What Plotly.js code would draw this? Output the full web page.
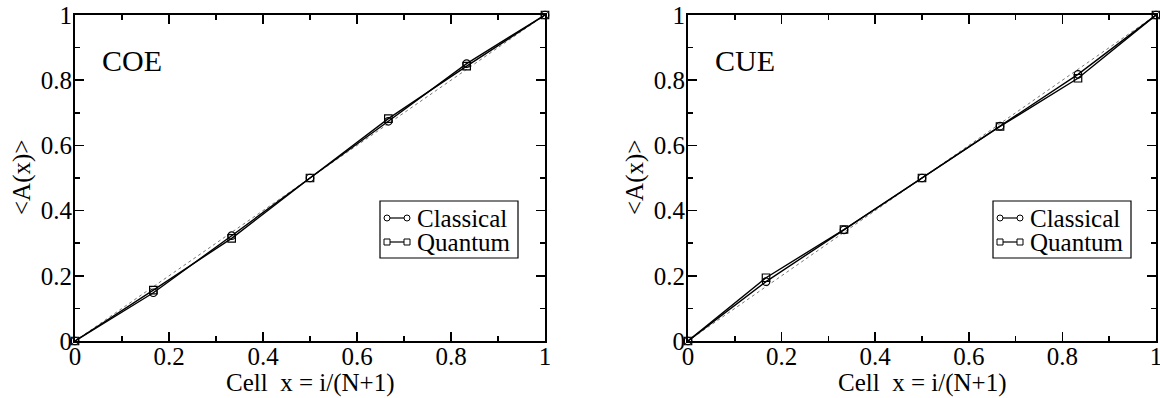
<!DOCTYPE html>
<html>
<head>
<meta charset="utf-8">
<script src="https://cdn.plot.ly/plotly-3.0.1.min.js"></script>
<style>
  html, body { margin: 0; padding: 0; background: #fff; }
  #chart { width: 1160px; height: 398px; }
</style>
</head>
<body>
<div id="chart"></div>
<script>
// Cell positions x = i/(N+1), N = 5
const cells = [0, 0.1667, 0.3333, 0.5, 0.6667, 0.8333, 1];

// COE ensemble
const coeClassical = [0, 0.148, 0.323, 0.500, 0.674, 0.851, 1];
const coeQuantum   = [0, 0.156, 0.315, 0.500, 0.682, 0.843, 1];

// CUE ensemble
const cueClassical = [0, 0.182, 0.341, 0.500, 0.659, 0.818, 1];
const cueQuantum   = [0, 0.194, 0.342, 0.500, 0.658, 0.806, 1];

// reference diagonal <A(x)> = x
const diagX = [0, 1];
const diagY = [0, 1];

const panelNames = ['COE', 'CUE'];
const seriesNames = ['Classical', 'Quantum'];
const tickVals = [0, 0.2, 0.4, 0.6, 0.8, 1];
const tickText = ['0', '0.2', '0.4', '0.6', '0.8', '1'];

const W = 1160, H = 398;
const px = v => v / W;
const py = v => 1 - v / H;

const serif = 'Liberation Serif, serif';

function lineTrace(x, y, symbol, xa, ya, name) {
  return {
    x: x, y: y, xaxis: xa, yaxis: ya, name: name,
    type: 'scatter', mode: 'lines+markers', cliponaxis: false, showlegend: false,
    line: {color: '#000', width: 1.4},
    marker: {symbol: symbol, size: 7.5, color: '#000', line: {width: 1.2}}
  };
}

function diagTrace(xa, ya) {
  return {
    x: diagX, y: diagY, xaxis: xa, yaxis: ya, type: 'scatter', mode: 'lines',
    showlegend: false, hoverinfo: 'skip',
    line: {color: '#777', width: 1, dash: 'dot'}
  };
}

const data = [
  diagTrace('x', 'y'),
  lineTrace(cells, coeClassical, 'circle-open', 'x', 'y', seriesNames[0]),
  lineTrace(cells, coeQuantum, 'square-open', 'x', 'y', seriesNames[1]),
  diagTrace('x2', 'y2'),
  lineTrace(cells, cueClassical, 'circle-open', 'x2', 'y2', seriesNames[0]),
  lineTrace(cells, cueQuantum, 'square-open', 'x2', 'y2', seriesNames[1])
];

function axis(domain, anchor, standoff) {
  return {
    domain: domain, anchor: anchor, range: [0, 1], fixedrange: true,
    tickmode: 'array', tickvals: tickVals, ticktext: tickText,
    ticks: 'inside', ticklen: 9, tickwidth: 1.5, tickcolor: '#000',
    showline: true, linewidth: 2, linecolor: '#000', mirror: 'ticks',
    showgrid: false, zeroline: false,
    ticklabelstandoff: standoff, ticklabeloverflow: 'allow',
    tickfont: {family: serif, size: 25, color: '#000'},
    minor: {ticks: 'inside', ticklen: 5, tickwidth: 1.5, tickcolor: '#000', dtick: 0.1, tick0: 0, showgrid: false}
  };
}

// panel pixel frames
const panels = [
  {x0: 75, x1: 545},
  {x0: 688, x1: 1156}
];
const plotTop = 15, plotBottom = 341;

const layout = {
  width: W, height: H,
  margin: {l: 0, r: 0, t: 0, b: 0},
  paper_bgcolor: '#fff', plot_bgcolor: '#fff',
  showlegend: false,
  font: {family: serif, color: '#000'},
  xaxis: axis([px(panels[0].x0), px(panels[0].x1)], 'y', -8),
  yaxis: axis([py(plotBottom), py(plotTop)], 'x', -4),
  xaxis2: axis([px(panels[1].x0), px(panels[1].x1)], 'y2', -8),
  yaxis2: axis([py(plotBottom), py(plotTop)], 'x2', -4),
  annotations: [],
  shapes: []
};

const ann = layout.annotations;
const shp = layout.shapes;

panels.forEach((p, k) => {
  const mid = (p.x0 + p.x1) / 2;
  // panel label
  ann.push({xref: 'paper', yref: 'paper', x: px(p.x0 + 25), y: py(61), xanchor: 'left', yanchor: 'middle',
    text: panelNames[k], showarrow: false, font: {family: serif, size: 30, color: '#000'}});
  // axis titles
  ann.push({xref: 'paper', yref: 'paper', x: px(mid), y: py(383), xanchor: 'center', yanchor: 'middle',
    text: 'Cell\u00a0\u00a0x = i/(N+1)', showarrow: false, font: {family: serif, size: 25, color: '#000'}});
  ann.push({xref: 'paper', yref: 'paper', x: px(p.x0 - 53), y: py(178), xanchor: 'center', yanchor: 'middle',
    text: '&lt;A(x)&gt;', textangle: -90, showarrow: false, font: {family: serif, size: 25, color: '#000'}});

  // legend box with line-and-marker keys
  const lx0 = p.x0 + 305, lx1 = p.x0 + 443, ly0 = 201, ly1 = 258;
  shp.push({type: 'rect', xref: 'paper', yref: 'paper', x0: px(lx0), x1: px(lx1), y0: py(ly1), y1: py(ly0),
    line: {color: '#000', width: 1.2}, fillcolor: '#fff', layer: 'above'});
  const rows = [{y: 218, sym: 'circle'}, {y: 242, sym: 'rect'}];
  rows.forEach((r, j) => {
    const sx0 = lx0 + 7, sx1 = lx0 + 27;
    shp.push({type: 'line', xref: 'paper', yref: 'paper', x0: px(sx0), x1: px(sx1), y0: py(r.y), y1: py(r.y),
      line: {color: '#000', width: 1.2}, layer: 'above'});
    [sx0, sx1].forEach(cx => {
      shp.push({type: r.sym, xref: 'paper', yref: 'paper', xsizemode: 'pixel', ysizemode: 'pixel',
        xanchor: px(cx), yanchor: py(r.y), x0: -3, x1: 3, y0: -3, y1: 3,
        line: {color: '#000', width: 1}, fillcolor: '#fff', layer: 'above'});
    });
    ann.push({xref: 'paper', yref: 'paper', x: px(lx0 + 35), y: py(r.y), xanchor: 'left', yanchor: 'middle',
      text: seriesNames[j], showarrow: false, font: {family: serif, size: 25, color: '#000'}});
  });
});

Plotly.newPlot('chart', data, layout, {staticPlot: true, displayModeBar: false});
</script>
</body>
</html>
